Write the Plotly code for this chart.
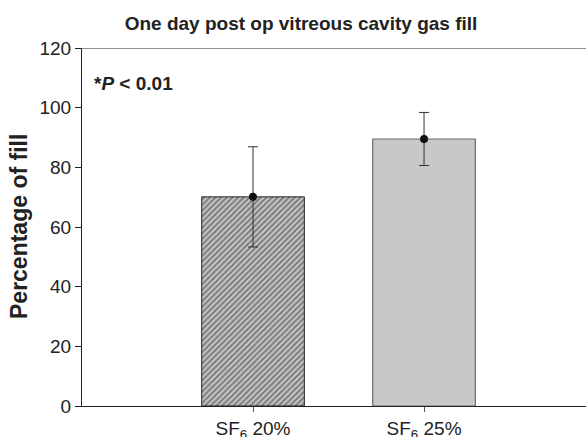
import plotly.graph_objects as go

categories = ["SF<sub>6</sub> 20%", "SF<sub>6</sub> 25%"]
x_pos = [1, 2]
means = [70.1, 89.5]
errors = [16.8, 8.9]
y_ticks = [0, 20, 40, 60, 80, 100, 120]

font = "Liberation Sans, Arial, sans-serif"

fig = go.Figure()
fig.add_trace(go.Bar(
    x=[x_pos[0]], y=[means[0]], width=0.6,
    marker=dict(color="#c0c0c0",
                line=dict(color="#222222", width=1),
                pattern=dict(shape="/", fgcolor="#262626", bgcolor="#c4c4c4", size=4, solidity=0.45)),
    showlegend=False, hoverinfo="skip"))
fig.add_trace(go.Bar(
    x=[x_pos[1]], y=[means[1]], width=0.6,
    marker=dict(color="#c8c8ca", line=dict(color="#6a6a6a", width=1.2)),
    showlegend=False, hoverinfo="skip"))
fig.add_trace(go.Scatter(
    x=x_pos, y=means, mode="markers",
    marker=dict(color="#111111", size=8),
    error_y=dict(type="data", array=errors, visible=True, color="#333333", thickness=1, width=5),
    showlegend=False, hoverinfo="skip"))

fig.update_layout(
    width=586, height=437,
    margin=dict(l=82, r=0, t=48, b=31, autoexpand=False),
    paper_bgcolor="white", plot_bgcolor="white",
    font=dict(family=font, color="#222222", size=19),
    title=dict(text="<b>One day post op vitreous cavity gas fill</b>",
               x=301/586, xref="container", xanchor="center",
               y=1 - 23/437, yref="container", yanchor="middle",
               font=dict(size=19, color="#222222", family=font)),
    bargap=0.4,
)

fig.update_xaxes(range=[0, 2.947], tickvals=x_pos, ticktext=categories,
                 showline=True, linecolor="#222222", linewidth=1,
                 ticks="outside", ticklen=5, tickcolor="#555555",
                 showgrid=False, zeroline=False, automargin=False,
                 tickfont=dict(size=19, color="#222222"))
fig.update_yaxes(range=[0, 120], tickvals=y_ticks,
                 showline=True, linecolor="#222222", linewidth=1, mirror=False,
                 ticks="outside", ticklen=6, tickcolor="#222222",
                 showgrid=False, zeroline=False, automargin=False,
                 tickfont=dict(size=19, color="#222222"))

# top border line of frame
fig.add_shape(type="line", xref="paper", yref="y", x0=0, x1=1, y0=120, y1=120,
              line=dict(color="#222222", width=1))

fig.add_annotation(text="<b>Percentage of fill</b>", textangle=-90,
                   xref="paper", yref="paper", x=-63/504, y=0.5,
                   xanchor="center", yanchor="middle", showarrow=False,
                   font=dict(size=23, color="#222222", family=font))
fig.add_annotation(text="<b>*<i>P</i> < 0.01</b>",
                   xref="paper", yref="paper", x=10/504, y=(405.6-83)/358,
                   xanchor="left", yanchor="middle", showarrow=False,
                   font=dict(size=19, color="#222222", family=font))

fig.write_html("out.html", config={"displayModeBar": False},
               post_script="document.body.style.margin='0';")
